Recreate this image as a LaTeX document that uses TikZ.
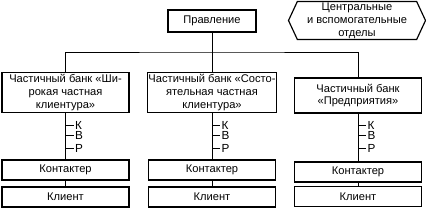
\documentclass[tikz,border=0pt]{standalone}
\usepackage{fontspec}
\setmainfont{Liberation Sans}
\usetikzlibrary{shapes.symbols, positioning}

\begin{document}
\begin{tikzpicture}[
    x=0.03cm, y=-0.03cm,
    line width=0.7pt,
    font=\fontsize{9.5}{11}\selectfont,
    box/.style={draw, line width=1pt, align=center, inner sep=1pt},
    bank/.style={box, minimum width=3.81cm, minimum height=1.2cm},
    small/.style={box, minimum width=3.81cm, minimum height=0.6cm},
    tick/.style={right, inner sep=1pt, font=\fontsize{10}{11}\selectfont}
  ]
  \useasboundingbox (0,0) rectangle (426,209);

  % верхний уровень
  \node[box, minimum width=2.64cm, minimum height=0.66cm] (upr) at (212,21) {Правление};
  \node[box, signal, signal to=east and west, signal pointer angle=130,
        minimum width=4.11cm, minimum height=1.14cm, inner sep=0pt] (otd) at (357,20.5)
        {Центральные\\и вспомогательные\\отделы};

  % частичные банки
  \node[bank] (b1) at (65.5,92.5) {Частичный банк «Ши-\\рокая частная\\клиентура»};
  \node[bank] (b2) at (212,92.5) {Частичный банк «Состо-\\ятельная частная\\клиентура»};
  \node[bank, minimum height=1.05cm] (b3) at (358,95.5) {Частичный банк\\«Предприятия»};

  % контактеры и клиенты
  \node[small] (c1) at (65.5,170) {Контактер};
  \node[small] (c2) at (212,170) {Контактер};
  \node[small] (c3) at (358,172) {Контактер};
  \node[small] (cl1) at (65.5,197) {Клиент};
  \node[small] (cl2) at (212,197) {Клиент};
  \node[small] (cl3) at (358,196.5) {Клиент};

  % связи
  \coordinate (bus) at (212,52);
  \draw (upr) -- (b2);
  \draw (b1.north) |- (bus) -| (b3.north);
  \draw (b1) -- (c1);
  \draw (b2) -- (c2);
  \draw (b3) -- (c3);
  \draw (c1) -- (cl1);
  \draw (c2) -- (cl2);
  \draw (c3) -- (cl3);

  % К, В, Р
  \draw (b1.south |- 0,125) -- ++(8,0) node[tick] (k1) {К};
  \draw (b1.south |- 0,135) -- ++(8,0) node[tick] (v1) {В};
  \draw (b1.south |- 0,148) -- ++(8,0) node[tick] (r1) {Р};
  \draw (b2.south |- 0,125) -- ++(8,0) node[tick] (k2) {К};
  \draw (b2.south |- 0,135) -- ++(8,0) node[tick] (v2) {В};
  \draw (b2.south |- 0,148) -- ++(8,0) node[tick] (r2) {Р};
  \draw (b3.south |- 0,125) -- ++(8,0) node[tick] (k3) {К};
  \draw (b3.south |- 0,135) -- ++(8,0) node[tick] (v3) {В};
  \draw (b3.south |- 0,148) -- ++(8,0) node[tick] (r3) {Р};

\end{tikzpicture}
\end{document}
